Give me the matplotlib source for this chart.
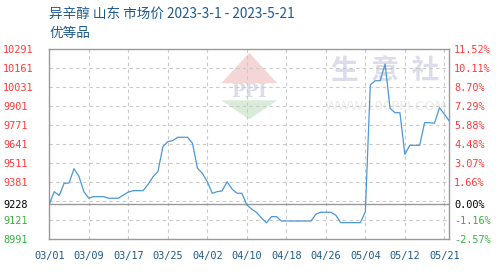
import numpy as np
import matplotlib
matplotlib.use("Agg")
import matplotlib.pyplot as plt
from matplotlib.patches import Polygon

# price series, one value per day, 2023-03-01 .. 2023-05-21
prices = [
    9228, 9315, 9288, 9372, 9374, 9472, 9420, 9315, 9270, 9281,
    9281, 9281, 9270, 9270, 9270, 9292, 9312, 9322, 9322, 9322,
    9365, 9417, 9452, 9623, 9657, 9664, 9687, 9687, 9687, 9645,
    9475, 9440, 9383, 9304, 9315, 9320, 9383, 9333, 9304, 9304,
    9224, 9195, 9172, 9133, 9103, 9144, 9144, 9114, 9114, 9114,
    9114, 9114, 9114, 9114, 9162, 9174, 9174, 9174, 9155, 9103,
    9103, 9103, 9103, 9103, 9178, 10045, 10074, 10074, 10188, 9885,
    9855, 9855, 9570, 9632, 9632, 9632, 9787, 9787, 9783, 9889,
    9845, 9798,
]
base = 9228
y_ticks = [8991, 9121, 9251, 9381, 9511, 9641, 9771, 9901, 10031, 10161, 10291]
x_tick_pos = [0, 8, 16, 24, 32, 40, 48, 56, 64, 72, 80]
x_tick_labels = ["03/01", "03/09", "03/17", "03/25", "04/02", "04/10",
                 "04/18", "04/26", "05/04", "05/12", "05/21"]
title = "异辛醇 山东 市场价 2023-3-1 - 2023-5-21"
subtitle = "优等品"

cjk = ["Noto Sans CJK SC", "DejaVu Sans"]
mono = "DejaVu Sans Mono"
red, green, blue_txt = "#ff3b3b", "#3cb043", "#1f5a8c"

fig = plt.figure(figsize=(4.98, 2.74), dpi=100)
ax = fig.add_axes([49.3 / 498, 1 - 239 / 274, 400 / 498, 190 / 274])

# watermark
ax.add_patch(Polygon([[0.50, 0.98], [0.43, 0.82], [0.57, 0.82]], closed=True,
                     transform=ax.transAxes, fc="#f4d6d6", ec="none", zorder=0))
ax.add_patch(Polygon([[0.50, 0.63], [0.43, 0.73], [0.57, 0.73]], closed=True,
                     transform=ax.transAxes, fc="#d9ecd9", ec="none", zorder=0))
ax.text(0.50, 0.775, "PPI", transform=ax.transAxes, ha="center", va="center",
        fontsize=13, color="#dcdcec", family="DejaVu Serif", fontweight="bold", zorder=0)
ax.text(0.84, 0.885, "生  意  社", transform=ax.transAxes, ha="center", va="center",
        fontsize=20, color="#dcdcea", family=cjk, fontweight="bold", zorder=0)
ax.text(0.84, 0.70, "WWW.100PPI.COM", transform=ax.transAxes, ha="center", va="center",
        fontsize=9.5, color="#ebebeb", family="DejaVu Sans", zorder=0)

x = np.arange(len(prices))
ax.plot(x, prices, color="#4a98d8", lw=0.9, zorder=3)

ax.set_xlim(0, len(prices) - 1)
ax.set_ylim(y_ticks[0], y_ticks[-1])

for v in y_ticks[1:-1]:
    ax.axhline(v, color="#c8c8c8", lw=0.8, ls=(0, (3, 3)), zorder=1)
for p in x_tick_pos[1:]:
    ax.axvline(p, color="#c8c8c8", lw=0.8, ls=(0, (3, 3)), zorder=1)
ax.axhline(base, color="#999999", lw=1.0, zorder=2)

left_ticks = [v for v in y_ticks if v != 9251] + [base]
left_ticks.sort()
ax.set_yticks(left_ticks)
ax.set_yticklabels([str(v) for v in left_ticks], family=mono)
for lab, v in zip(ax.get_yticklabels(), left_ticks):
    lab.set_color(red if v > base else (green if v < base else "black"))
    lab.set_horizontalalignment("left")
ax.tick_params(axis="y", length=0, pad=33.3, labelsize=7.4)

ax.set_xticks(x_tick_pos)
ax.set_xticklabels(x_tick_labels, family=mono)
ax.tick_params(axis="x", length=0, pad=9, labelsize=7.4, labelcolor=blue_txt)

for s in ax.spines.values():
    s.set_color("#999999")
    s.set_linewidth(1.0)

ax2 = ax.twinx()
ax2.set_ylim((y_ticks[0] - base) / base * 100, (y_ticks[-1] - base) / base * 100)
pct = [(v - base) / base * 100 for v in left_ticks]
ax2.set_yticks(pct)
ax2.set_yticklabels(["%.2f%%" % p for p in pct], family=mono)
for lab, v in zip(ax2.get_yticklabels(), left_ticks):
    lab.set_color(red if v > base else (green if v < base else "black"))
ax2.tick_params(axis="y", length=0, pad=3.4, labelsize=7.4)
for s in ax2.spines.values():
    s.set_visible(False)

fig.text(49 / 498, 1 - 15 / 274, title, family=cjk, fontsize=9.8, color=blue_txt,
         ha="left", va="center")
fig.text(49 / 498, 1 - 33 / 274, subtitle, family=cjk, fontsize=9.8, color=blue_txt,
         ha="left", va="center")

fig.savefig("out.png", dpi=100)
